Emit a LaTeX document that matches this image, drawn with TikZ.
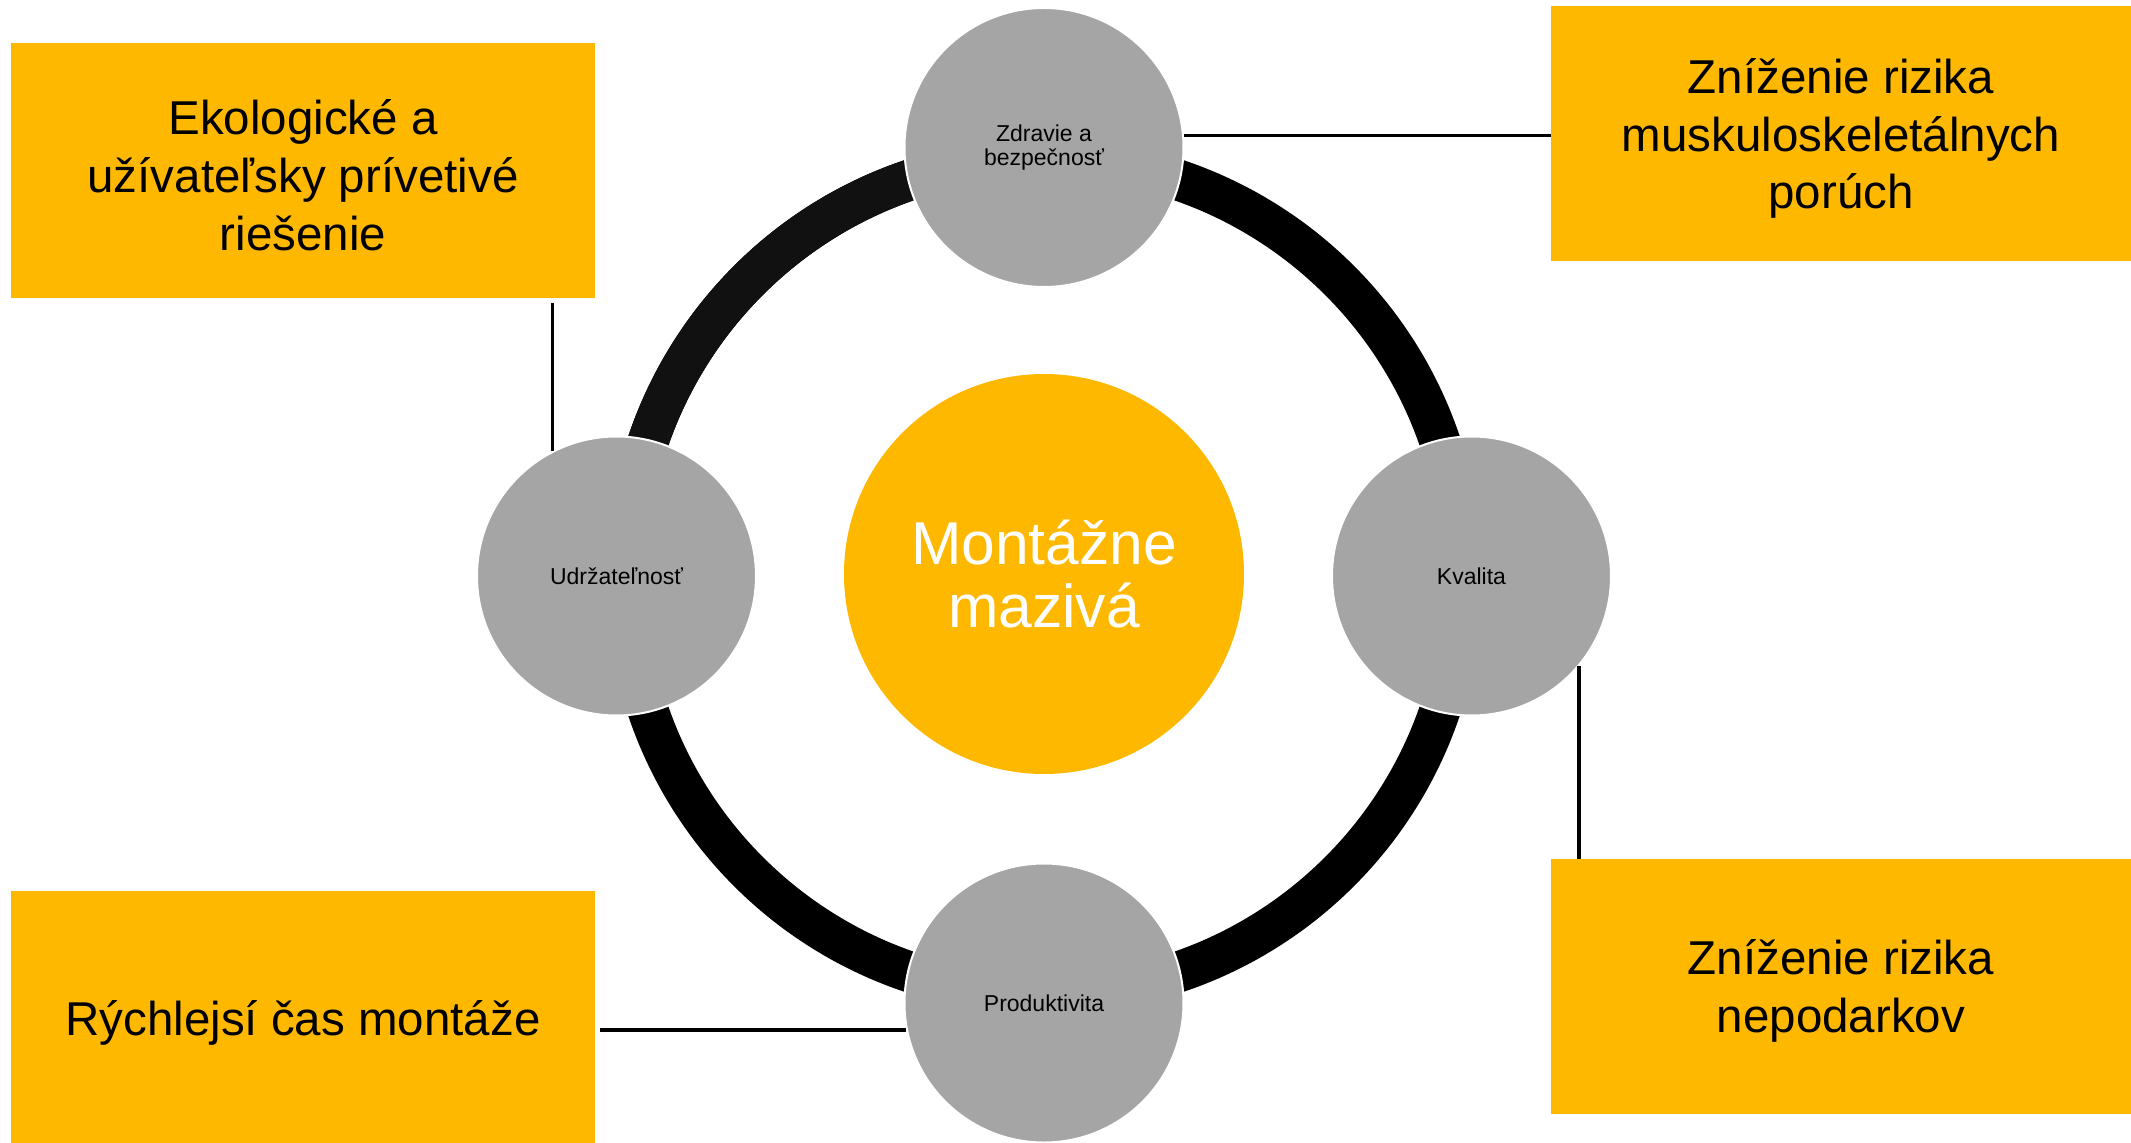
\documentclass[tikz,border=0pt]{standalone}
\usepackage{fontspec}
\setmainfont{Liberation Sans}
\usepackage{tikz}
\definecolor{lubeyellow}{RGB}{254,184,0}
\definecolor{spokegray}{RGB}{165,165,165}
\definecolor{ringdark}{RGB}{17,17,17}

\begin{document}
\begin{tikzpicture}[x=1pt, y=1pt,
  hub/.style={circle, fill=lubeyellow, text=white, minimum size=400pt, inner sep=0pt, align=center, font=\fontsize{60.5}{63.3}\selectfont},
  spoke/.style={circle, fill=spokegray, draw=white, line width=2pt, minimum size=279pt, inner sep=0pt, align=center, font=\fontsize{23}{24}\selectfont},
  benefit/.style={rectangle, yshift=-5pt, preaction={fill=lubeyellow, transform canvas={yshift=5pt}}, minimum width=584pt, minimum height=255pt, inner sep=0pt, align=center, font=\fontsize{47.5}{57.7}\selectfont},
  link/.style={line width=3.5pt}]
  \useasboundingbox (-1044,-567) rectangle (1087,576);
  \draw[line width=41pt] (0,0) circle (418);
  \draw[line width=41pt, ringdark] (90:418) arc (90:180:418);

  \node[hub] (mazivo) at (0,2) {Montážne\\mazivá};
  \node[spoke] (zdravie) at (0,428.5) {Zdravie a\\bezpečnosť};
  \node[spoke] (kvalita) at (427.5,0) {Kvalita};
  \node[spoke] (produkt) at (0,-427) {Produktivita};
  \node[spoke] (udrz) at (-427.5,0) {Udržateľnosť};

  \node[benefit] (ekobox) at (-741,405.8) {Ekologické a\\užívateľsky prívetivé\\riešenie};
  \node[benefit, minimum width=580pt] (muskbox) at (797,442.3) {Zníženie rizika\\muskuloskeletálnych\\porúch};
  \node[benefit, minimum width=580pt] (nepobox) at (797,-410.2) {Zníženie rizika\\nepodarkov};
  \node[benefit] (rychbox) at (-741,-442) {Rýchlejsí čas montáže};

  \draw[link] (udrz.117) -- (udrz.117 |- ekobox.south);
  \draw[link] (zdravie.5) -- (zdravie.5 -| muskbox.west);
  \draw[link, shorten >=5pt] (kvalita.-40) -- (kvalita.-40 |- nepobox.north);
  \draw[link, shorten >=5pt] (produkt.191) -- (produkt.191 -| rychbox.east);
\end{tikzpicture}
\end{document}
